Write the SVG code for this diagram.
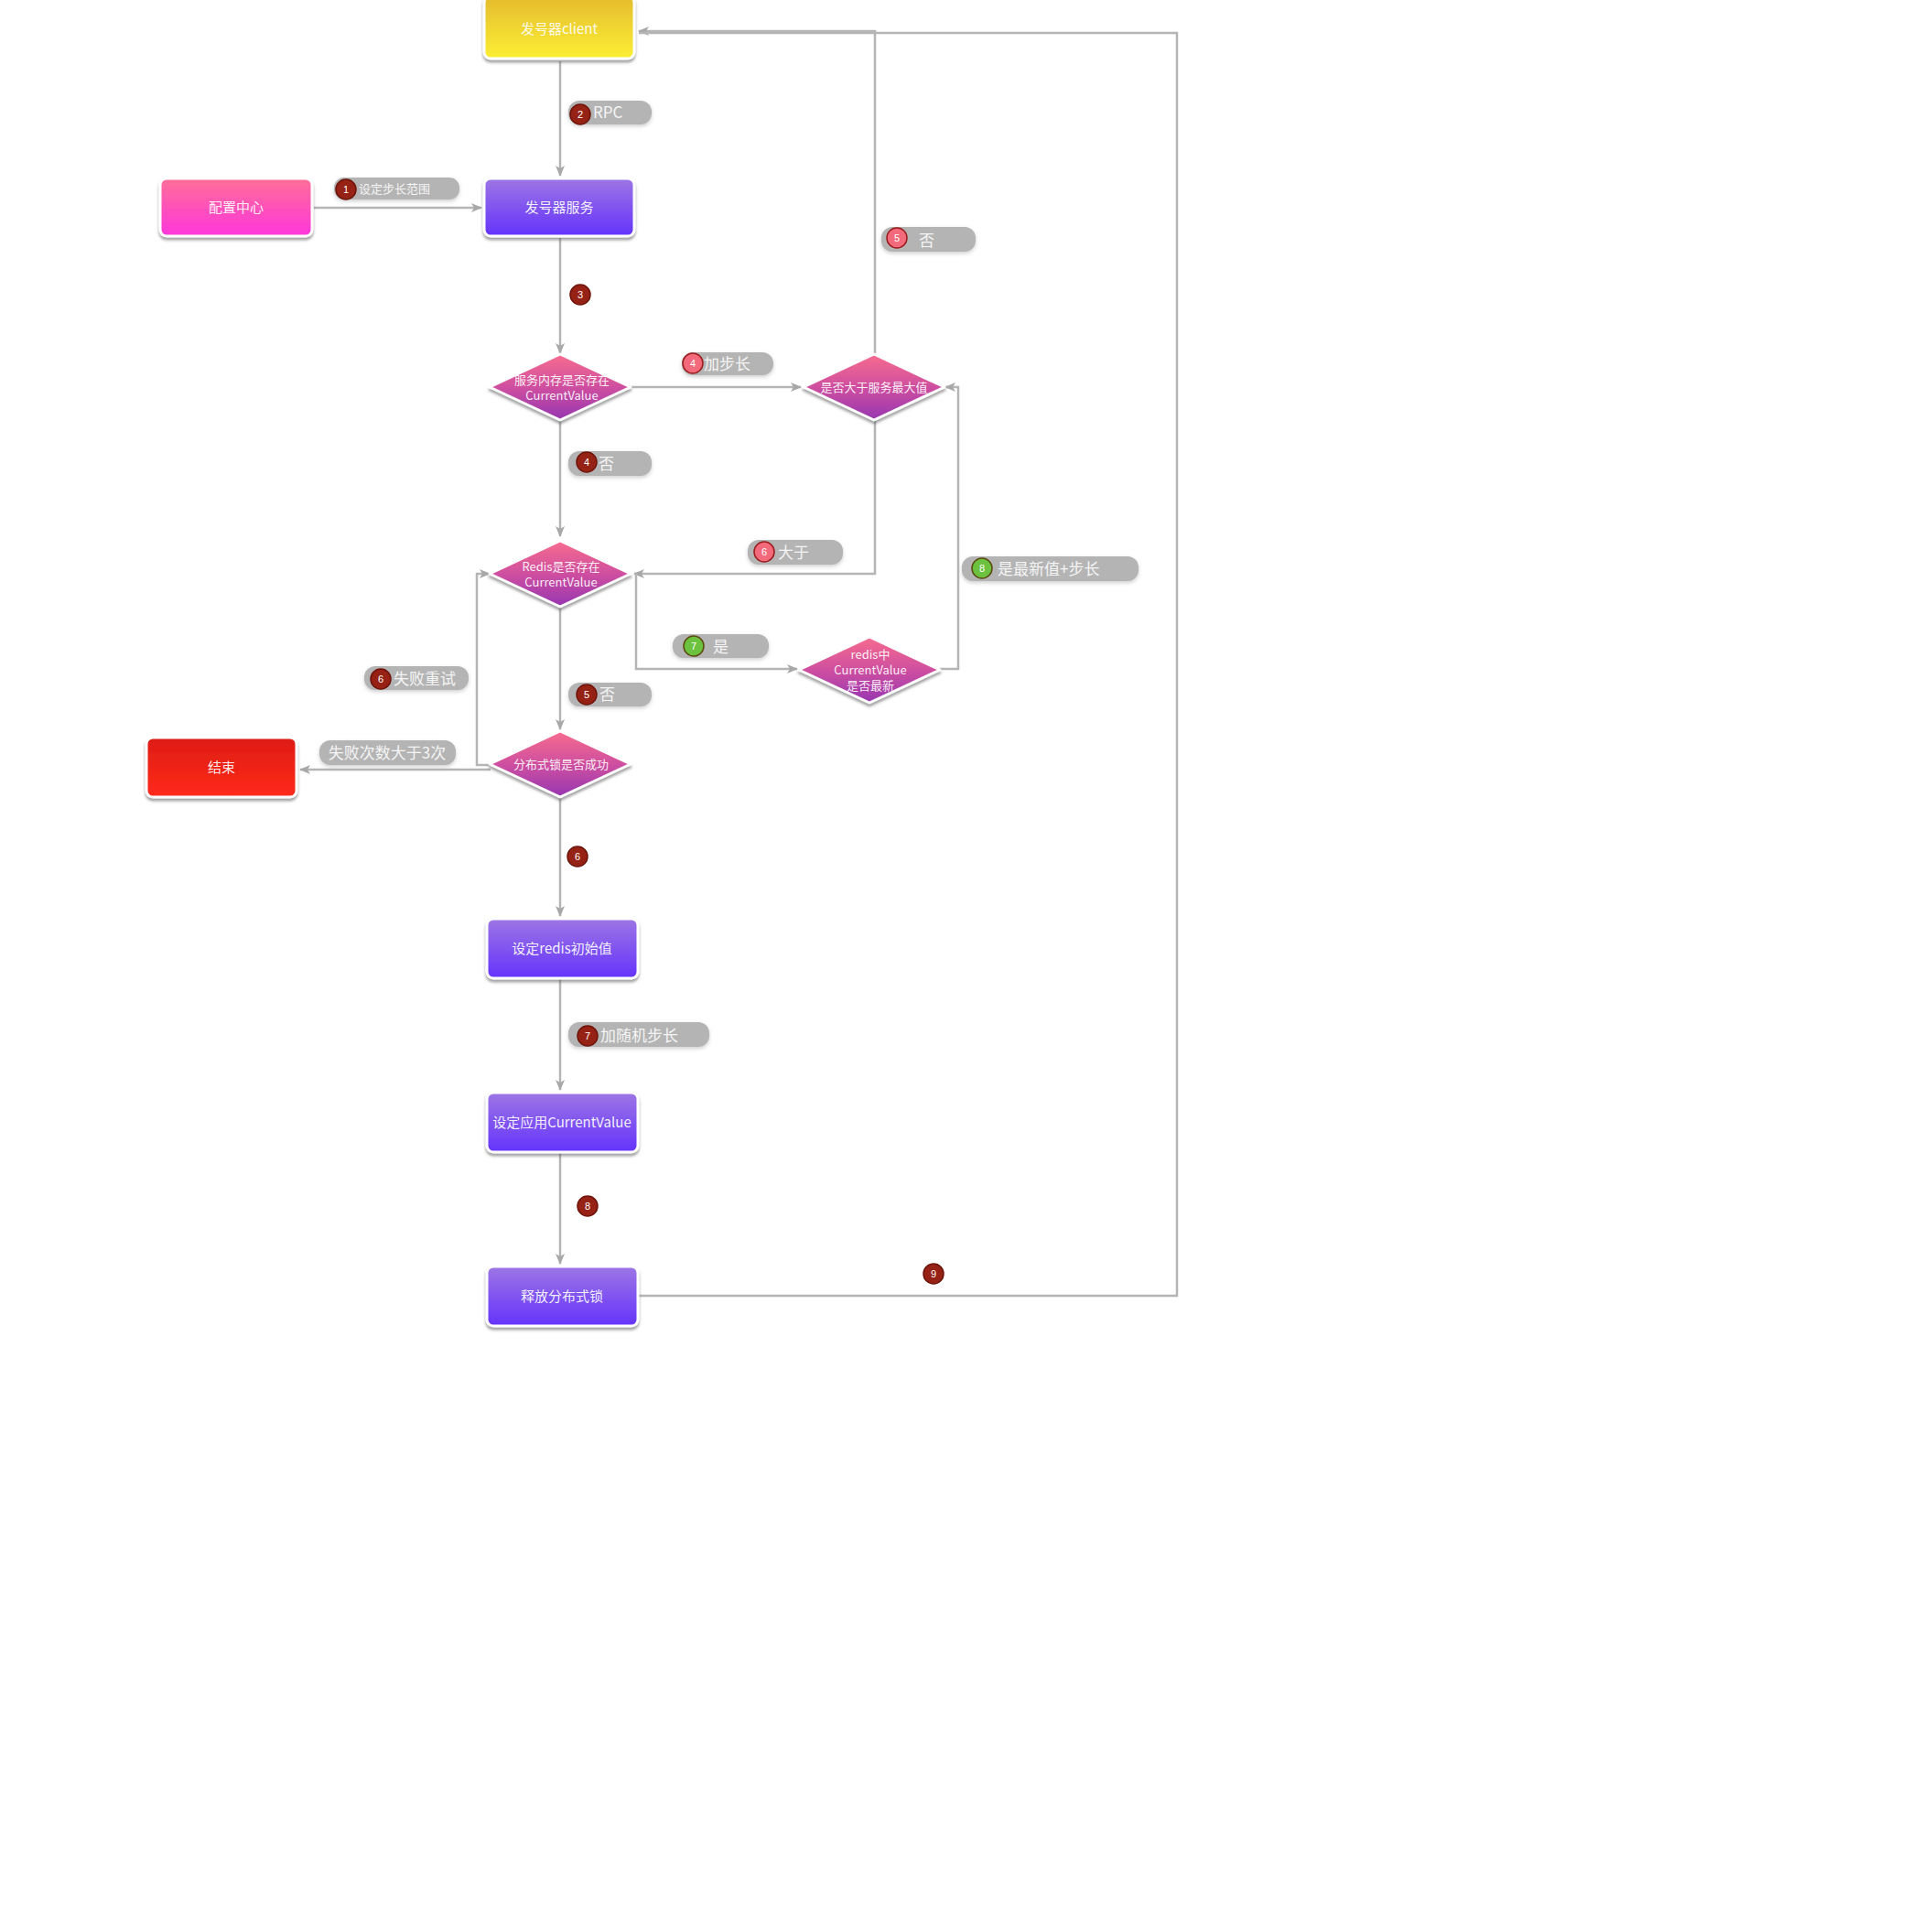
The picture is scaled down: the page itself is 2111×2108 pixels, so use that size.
<svg xmlns="http://www.w3.org/2000/svg" width="2111" height="2108" viewBox="0 0 2111 2108">
<style>
.lbl{font-family:"Noto Sans CJK SC","Liberation Sans",sans-serif;fill:#ffffff;fill-opacity:0.92;text-anchor:middle}
.ptxt{font-family:"Noto Sans CJK SC","Liberation Sans",sans-serif;fill:#f4f4f4;font-size:17px}
.small{font-size:13px}
.num{font-family:"Liberation Sans",sans-serif;fill:#ffffff;font-size:11px;text-anchor:middle}
.pill{fill:#b4b4b4}
.box{stroke:#ffffff;stroke-width:3}
.dia{stroke:#ffffff;stroke-width:3;stroke-linejoin:round}
.conn{fill:none;stroke:#b5b5b5;stroke-width:2.5}
.bred{fill:#952215;stroke:#6e140b;stroke-width:1.5}
.bpink{fill:#f26a7c;stroke:#9a1c1c;stroke-width:1.5}
.bgreen{fill:#6cc13f;stroke:#5a4a10;stroke-width:1.5}
</style>
<defs>
<linearGradient id="gYellow" x1="0" y1="0" x2="0" y2="1"><stop offset="0" stop-color="#e5bb2e"/><stop offset="1" stop-color="#fbef34"/></linearGradient>
<linearGradient id="gPink" x1="0" y1="0" x2="0" y2="1"><stop offset="0" stop-color="#ff6f97"/><stop offset="1" stop-color="#ff36dc"/></linearGradient>
<linearGradient id="gPurple" x1="0" y1="0" x2="0" y2="1"><stop offset="0" stop-color="#9d76e4"/><stop offset="1" stop-color="#6433fc"/></linearGradient>
<linearGradient id="gRed" x1="0" y1="0" x2="0" y2="1"><stop offset="0" stop-color="#de1c12"/><stop offset="1" stop-color="#ff2a1c"/></linearGradient>
<linearGradient id="gDia" x1="0" y1="0" x2="0" y2="1"><stop offset="0" stop-color="#f76c8e"/><stop offset="0.5" stop-color="#cf4fa0"/><stop offset="1" stop-color="#9636b2"/></linearGradient>
<filter id="sh" x="-20%" y="-20%" width="140%" height="150%"><feDropShadow dx="0" dy="3" stdDeviation="1.5" flood-color="#555555" flood-opacity="0.55"/></filter>
<filter id="psh" x="-20%" y="-30%" width="140%" height="170%"><feDropShadow dx="0" dy="2" stdDeviation="2" flood-color="#777777" flood-opacity="0.35"/></filter>
<marker id="arr" markerWidth="12" markerHeight="10" refX="11" refY="5" orient="auto" markerUnits="userSpaceOnUse"><path d="M0,0 L12,5 L0,10 L3,5 Z" fill="#a8a8a8"/></marker>
</defs>
<rect x="0" y="0" width="2111" height="2108" fill="#ffffff"/>

<g id="connectors">
<path class="conn" d="M612,67 V192" marker-end="url(#arr)"/>
<path class="conn" d="M343,227 H526" marker-end="url(#arr)"/>
<path class="conn" d="M612,260 V386" marker-end="url(#arr)"/>
<path class="conn" d="M689,423 H875" marker-end="url(#arr)"/>
<path class="conn" d="M956,388 V34 H698" marker-end="url(#arr)"/>
<path class="conn" d="M612,460 V586" marker-end="url(#arr)"/>
<path class="conn" d="M956,459 V627 H693" marker-end="url(#arr)"/>
<path class="conn" d="M695,627 V731 H871" marker-end="url(#arr)"/>
<path class="conn" d="M1027,731 H1047 V423 H1033" marker-end="url(#arr)"/>
<path class="conn" d="M612,664 V797" marker-end="url(#arr)"/>
<path class="conn" d="M536,836 H521 V627 H535" marker-end="url(#arr)"/>
<path class="conn" d="M536,841 H328" marker-end="url(#arr)"/>
<path class="conn" d="M612,872 V1001" marker-end="url(#arr)"/>
<path class="conn" d="M612,1070 V1191" marker-end="url(#arr)"/>
<path class="conn" d="M612,1260 V1381" marker-end="url(#arr)"/>
<path class="conn" d="M698,1416 H1286 V36 H698"/>
</g>

<g id="client"><rect class="box" x="529" y="-4" width="164" height="68" rx="7" fill="url(#gYellow)" filter="url(#sh)"/><text class="lbl" x="611" y="37" font-size="15">发号器client</text></g>
<g id="config"><rect class="box" x="175" y="195" width="166" height="63" rx="7" fill="url(#gPink)" filter="url(#sh)"/><text class="lbl" x="258" y="232" font-size="15">配置中心</text></g>
<g id="service"><rect class="box" x="529" y="195" width="164" height="63" rx="7" fill="url(#gPurple)" filter="url(#sh)"/><text class="lbl" x="611" y="232" font-size="15">发号器服务</text></g>

<g id="d1"><polygon class="dia" points="612,387 689,423 612,459 535,423" fill="url(#gDia)" filter="url(#sh)"/><text class="lbl" x="614" y="420" font-size="13">服务内存是否存在</text><text class="lbl" x="614" y="437" font-size="13">CurrentValue</text></g>
<g id="d2"><polygon class="dia" points="955,387 1032,423 955,459 878,423" fill="url(#gDia)" filter="url(#sh)"/><text class="lbl" x="955" y="428" font-size="13">是否大于服务最大值</text></g>
<g id="d3"><polygon class="dia" points="612,591 689,627 612,663 535,627" fill="url(#gDia)" filter="url(#sh)"/><text class="lbl" x="613" y="624" font-size="13">Redis是否存在</text><text class="lbl" x="613" y="641" font-size="13">CurrentValue</text></g>
<g id="d4"><polygon class="dia" points="950,696 1027,732 950,768 873,732" fill="url(#gDia)" filter="url(#sh)"/><text class="lbl" x="951" y="720" font-size="13">redis中</text><text class="lbl" x="951" y="737" font-size="13">CurrentValue</text><text class="lbl" x="951" y="754" font-size="13">是否最新</text></g>
<g id="d5"><polygon class="dia" points="612,799 689,835 612,871 535,835" fill="url(#gDia)" filter="url(#sh)"/><text class="lbl" x="613" y="840" font-size="13">分布式锁是否成功</text></g>

<g id="end"><rect class="box" x="160" y="806" width="164" height="65" rx="7" fill="url(#gRed)" filter="url(#sh)"/><text class="lbl" x="242" y="844" font-size="15">结束</text></g>
<g id="setRedis"><rect class="box" x="532" y="1004" width="165" height="65" rx="7" fill="url(#gPurple)" filter="url(#sh)"/><text class="lbl" x="614" y="1042" font-size="15">设定redis初始值</text></g>
<g id="setApp"><rect class="box" x="532" y="1194" width="165" height="65" rx="7" fill="url(#gPurple)" filter="url(#sh)"/><text class="lbl" x="614" y="1232" font-size="15">设定应用CurrentValue</text></g>
<g id="release"><rect class="box" x="532" y="1384" width="165" height="65" rx="7" fill="url(#gPurple)" filter="url(#sh)"/><text class="lbl" x="614" y="1422" font-size="15">释放分布式锁</text></g>

<g id="labels">
<g><rect class="pill" x="365" y="194" width="137" height="24" rx="11" filter="url(#psh)"/><circle class="bred" cx="378" cy="207" r="11"/><text class="num" x="378" y="211">1</text><text class="ptxt small" x="392" y="211">设定步长范围</text></g>
<g><rect class="pill" x="621" y="110" width="91" height="26" rx="12" filter="url(#psh)"/><circle class="bred" cx="634" cy="125" r="11"/><text class="num" x="634" y="129">2</text><text class="ptxt" x="648" y="129">RPC</text></g>
<g><circle class="bred" cx="634" cy="322" r="11"/><text class="num" x="634" y="326">3</text></g>
<g><rect class="pill" x="745" y="385" width="100" height="25" rx="12" filter="url(#psh)"/><circle class="bpink" cx="757" cy="397" r="11"/><text class="num" x="757" y="401">4</text><text class="ptxt" x="769" y="404">加步长</text></g>
<g><rect class="pill" x="963" y="248" width="103" height="27" rx="12" filter="url(#psh)"/><circle class="bpink" cx="980" cy="260" r="11"/><text class="num" x="980" y="264">5</text><text class="ptxt" x="1004" y="269">否</text></g>
<g><rect class="pill" x="621" y="493" width="91" height="27" rx="12" filter="url(#psh)"/><circle class="bred" cx="641" cy="505" r="11"/><text class="num" x="641" y="509">4</text><text class="ptxt" x="654" y="513">否</text></g>
<g><rect class="pill" x="817" y="590" width="104" height="27" rx="12" filter="url(#psh)"/><circle class="bpink" cx="835" cy="603" r="11"/><text class="num" x="835" y="607">6</text><text class="ptxt" x="850" y="610">大于</text></g>
<g><rect class="pill" x="1051" y="608" width="193" height="27" rx="12" filter="url(#psh)"/><circle class="bgreen" cx="1073" cy="621" r="11"/><text class="num" x="1073" y="625">8</text><text class="ptxt" x="1090" y="628">是最新值+步长</text></g>
<g><rect class="pill" x="735" y="693" width="105" height="26" rx="12" filter="url(#psh)"/><circle class="bgreen" cx="758" cy="706" r="11"/><text class="num" x="758" y="710">7</text><text class="ptxt" x="779" y="713">是</text></g>
<g><rect class="pill" x="398" y="728" width="114" height="26" rx="12" filter="url(#psh)"/><circle class="bred" cx="416" cy="742" r="11"/><text class="num" x="416" y="746">6</text><text class="ptxt" x="430" y="748">失败重试</text></g>
<g><rect class="pill" x="621" y="746" width="91" height="26" rx="12" filter="url(#psh)"/><circle class="bred" cx="641" cy="759" r="11"/><text class="num" x="641" y="763">5</text><text class="ptxt" x="655" y="765">否</text></g>
<g><rect class="pill" x="349" y="809" width="149" height="27" rx="12" filter="url(#psh)"/><text class="ptxt" x="423" y="829" text-anchor="middle">失败次数大于3次</text></g>
<g><circle class="bred" cx="631" cy="936" r="11"/><text class="num" x="631" y="940">6</text></g>
<g><rect class="pill" x="621" y="1117" width="154" height="27" rx="12" filter="url(#psh)"/><circle class="bred" cx="642" cy="1132" r="11"/><text class="num" x="642" y="1136">7</text><text class="ptxt" x="656" y="1138">加随机步长</text></g>
<g><circle class="bred" cx="642" cy="1318" r="11"/><text class="num" x="642" y="1322">8</text></g>
<g><circle class="bred" cx="1020" cy="1392" r="11"/><text class="num" x="1020" y="1396">9</text></g>
</g>
</svg>
